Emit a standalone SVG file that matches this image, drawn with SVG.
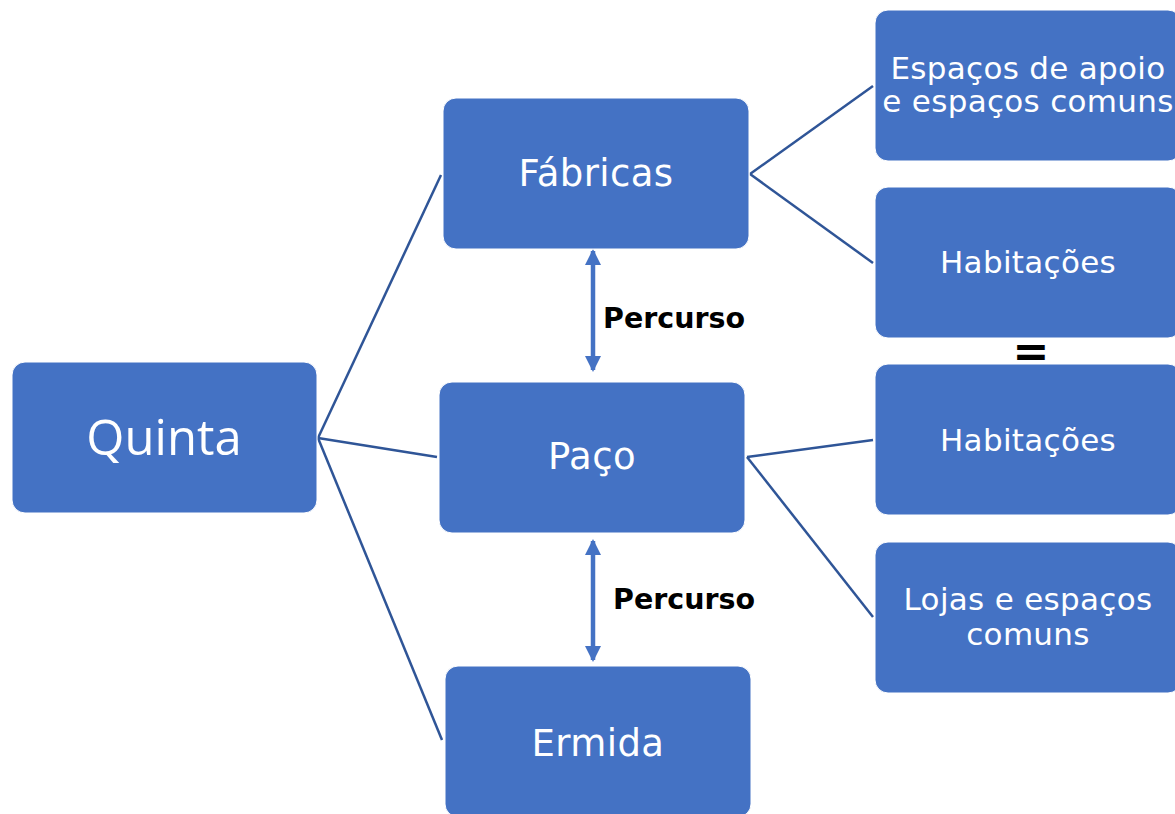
<svg xmlns="http://www.w3.org/2000/svg" width="1175" height="814" viewBox="0 0 1175 814">
<style>
.box{fill:#4472C4;stroke:#ffffff;stroke-width:1}
.t{font-family:"DejaVu Sans",Verdana,sans-serif;fill:#ffffff;text-anchor:middle}
.big{font-size:37px;letter-spacing:0.4px}
.sm{font-size:31px;letter-spacing:0.3px}
.q{font-family:"Open Sans","Segoe UI",sans-serif;fill:#ffffff;text-anchor:middle;font-size:49px}
.c{stroke:#2F5597;stroke-width:2.5;fill:none}
.a{stroke:#4472C4;stroke-width:4.5;fill:none}
.lbl{font-family:"DejaVu Sans",Verdana,sans-serif;font-weight:bold;font-size:28.5px;fill:#000000}
</style>
<defs>
<marker id="ah" viewBox="0 0 16 16" refX="14" refY="8" markerWidth="16" markerHeight="16" markerUnits="userSpaceOnUse" orient="auto-start-reverse">
<path d="M0,0 L16,8 L0,16 Z" fill="#4472C4"/>
</marker>
</defs>
<rect width="1175" height="814" fill="#ffffff"/>
<g id="connectors">
<line class="c" x1="318" y1="438" x2="441" y2="175"/>
<line class="c" x1="318" y1="438" x2="437" y2="457"/>
<line class="c" x1="318" y1="438" x2="442" y2="740"/>
<line class="c" x1="750" y1="174" x2="873" y2="86"/>
<line class="c" x1="750" y1="174" x2="873" y2="263"/>
<line class="c" x1="747" y1="457" x2="873" y2="440"/>
<line class="c" x1="747" y1="457" x2="873" y2="617"/>
<line class="a" x1="593" y1="251" x2="593" y2="370" marker-start="url(#ah)" marker-end="url(#ah)"/>
<line class="a" x1="593" y1="541" x2="593" y2="660" marker-start="url(#ah)" marker-end="url(#ah)"/>
<text class="lbl" x="603" y="328">Percurso</text>
<text class="lbl" x="613" y="609">Percurso</text>
</g>
<g id="quinta">
<rect class="box" x="12" y="362" width="305" height="151" rx="13"/>
<text class="q" x="164" y="455">Quinta</text>
</g>
<g id="fabricas">
<rect class="box" x="443" y="98" width="306" height="151" rx="13"/>
<text class="t big" x="596" y="186">Fábricas</text>
</g>
<g id="paco">
<rect class="box" x="439" y="382" width="306" height="151" rx="13"/>
<text class="t big" x="592" y="469">Paço</text>
</g>
<g id="ermida">
<rect class="box" x="445" y="666" width="306" height="151" rx="13"/>
<text class="t big" x="598" y="756">Ermida</text>
</g>
<g id="espacos">
<rect class="box" x="875" y="10" width="306" height="151" rx="13"/>
<text class="t sm" x="1028" y="79">Espaços de apoio</text>
<text class="t sm" x="1028" y="112">e espaços comuns</text>
</g>
<g id="habitacoes1">
<rect class="box" x="875" y="187" width="306" height="151" rx="13"/>
<text class="t sm" x="1028" y="273">Habitações</text>
</g>
<g id="equals">
<text x="1031" y="366" font-family="DejaVu Sans,sans-serif" font-weight="bold" font-size="44" fill="#000000" text-anchor="middle">=</text>
</g>
<g id="habitacoes2">
<rect class="box" x="875" y="364" width="306" height="151" rx="13"/>
<text class="t sm" x="1028" y="451">Habitações</text>
</g>
<g id="lojas">
<rect class="box" x="875" y="542" width="306" height="151" rx="13"/>
<text class="t sm" x="1028" y="610">Lojas e espaços</text>
<text class="t sm" x="1028" y="645">comuns</text>
</g>
</svg>
